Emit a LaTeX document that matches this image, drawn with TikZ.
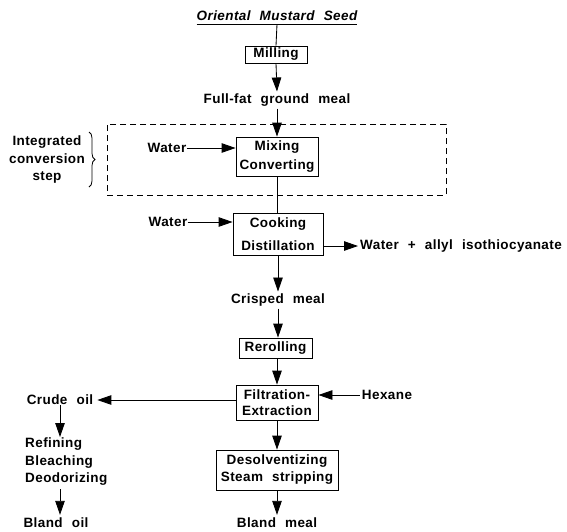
\documentclass[tikz,border=0pt]{standalone}
\usepackage{fontspec}
\setmainfont{Liberation Sans}[LetterSpace=3, WordSpace=2.2]
\usetikzlibrary{arrows.meta,decorations.pathreplacing}
\begin{document}
\begin{tikzpicture}[x=1pt,y=-1pt,
  every node/.style={font=\bfseries\fontsize{13.5}{15}\selectfont, inner sep=0pt},
  ln/.style={line width=0.85pt},
  box/.style={draw, line width=0.85pt, align=center},
  arr/.style={-{Triangle[length=14pt,width=9.5pt]}, line width=0.85pt},
  dashbox/.style={draw, line width=0.85pt, dash pattern=on 6pt off 4pt}]
\useasboundingbox (0,0) rectangle (567,531);

% title
\node (title) at (277,16) {\itshape Oriental Mustard Seed};
\coordinate (ul) at ([yshift=-3pt]title.south);
\draw[ln] ([yshift=-3pt]title.south west) -- ([yshift=-3pt]title.south east);

% main column
\node[box, minimum width=62pt, minimum height=17pt] (mill) at (276,54.5) {Milling};
\node (full) at (277,100) {Full-fat ground meal};
\node[dashbox, minimum width=339pt, minimum height=71pt] (conv) at (276.5,159.5) {};
\node[box, minimum width=82pt, minimum height=39pt] (mix) at (277,156.5) {Mixing\\[4pt]Converting};
\node[box, minimum width=90pt, minimum height=42pt] (cook) at (278,234) {Cooking\\[8pt]Distillation};
\node (crisp) at (278,300) {Crisped meal};
\node[box, minimum width=73pt, minimum height=20pt] (reroll) at (275.5,348) {Rerolling};
\node[box, minimum width=82pt, minimum height=35pt] (filt) at (277,402.5) {Filtration-\\[1pt]Extraction};
\node[box, minimum width=122pt, minimum height=40pt] (desolv) at (277,470) {Desolventizing\\[2pt]Steam stripping};
\node (bmeal) at (277,523) {Bland meal};

% side inputs / outputs
\node (w1) at (167,148) {Water};
\node (w2) at (168,222) {Water};
\node[anchor=west] (wai) at (360,246) {Water + allyl isothiocyanate};
\node (hex) at (387,395) {Hexane};
\node (crude) at (60,400) {Crude oil};
\node[anchor=west, align=left, font=\bfseries\fontsize{13.5}{17.5}\selectfont] (refine) at (25,462) {Refining\\Bleaching\\Deodorizing};
\node (boil) at (56,523) {Bland oil};

% integrated conversion step label
\node[align=center, font=\bfseries\fontsize{13.5}{17.5}\selectfont] (intl) at (47,160) {Integrated\\conversion\\step};
\draw[line width=0.8pt, decorate, decoration={brace, amplitude=6pt}] (89,132) -- (89,187);

% connectors
\draw[ln] (ul) -- (mill.north);
\draw[arr] (mill.south) -- ([yshift=2pt]full.north);
\draw[arr] ([yshift=-2pt]full.south) -- (mix.north);
\draw[ln] (mix.south) -- (cook.north -| mix.south);
\draw[arr] (w1.east) -- (mix.west |- w1.east);
\draw[arr] (w2.east) -- (cook.west |- w2.east);
\draw[arr] (cook.east |- wai.west) -- ([xshift=-2pt]wai.west);
\draw[arr] (cook.south -| crisp.north) -- ([yshift=2pt]crisp.north);
\draw[arr] ([yshift=-2pt]crisp.south) -- (reroll.north -| crisp.south);
\draw[arr] (reroll.south -| filt.north) -- (filt.north);
\draw[arr] ([xshift=-2pt]hex.west) -- (filt.east |- hex.west);
\draw[arr] (filt.west |- crude.east) -- ([xshift=4pt]crude.east);
\draw[arr] (filt.south) -- (desolv.north);
\draw[arr] (desolv.south) -- ([yshift=3pt]bmeal.north);
\draw[arr] (crude.south -| 60,0) -- (60,437);
\draw[arr] (60,489) -- ([yshift=3pt]boil.north -| 60,0);
\end{tikzpicture}
\end{document}
